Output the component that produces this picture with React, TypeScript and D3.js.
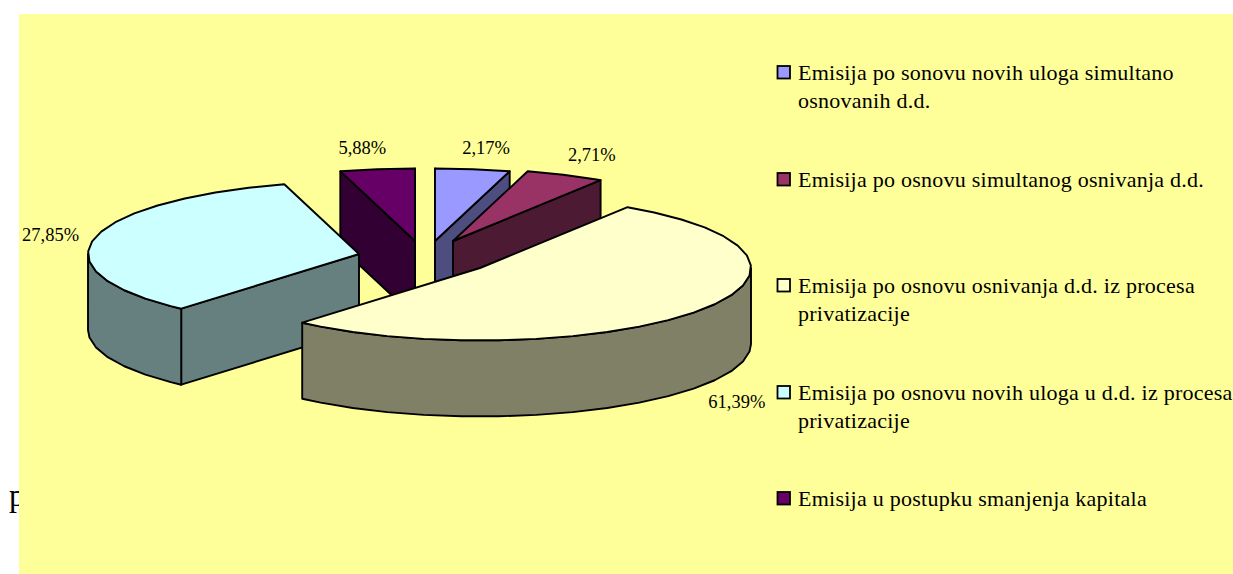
import React from "react";
import * as d3 from "d3";

const W = 1233;
const H = 574;

// ---- data ----
const shares = [2.17, 2.71, 61.39, 27.85, 5.88];
const shareLabels = ["2,17%", "2,71%", "61,39%", "27,85%", "5,88%"];
const legendLines = [
  ["Emisija po sonovu novih uloga simultano", "osnovanih d.d."],
  ["Emisija po osnovu simultanog osnivanja d.d."],
  ["Emisija po osnovu osnivanja d.d. iz procesa", "privatizacije"],
  ["Emisija po osnovu novih uloga u d.d. iz procesa", "privatizacije"],
  ["Emisija u postupku smanjenja kapitala"],
];
const fills = ["#9999FF", "#993366", "#FFFFCC", "#CCFFFF", "#660066"];

// ---- layout ----
const drawnAngles = [0, 16, 33, 221, 344, 360]; // the source's 3-D view foreshortens angles
const sliceCentres: [number, number][] = [
  [435, 241],
  [453, 241],
  [480, 268],
  [359, 254],
  [415, 241],
];
const labelOffsets: [number, number][] = [
  [13.4, -15.7],
  [26.5, -13.6],
  [40.4, 96],
  [-43.9, 2.8],
  [-14.9, -15.7],
];
const legendBaselines = [80, 187, 293, 400, 506];
const paintOrder = [4, 0, 1, 3, 2];
const RX = 271;
const RY = 72.5;
const DEPTH = 76;

const pieArcs = d3.pie<number>().sort(null).value((d) => d)(shares);
const angleScale = d3
  .scaleLinear()
  .domain([0, ...pieArcs.map((a) => a.endAngle)])
  .range(drawnAngles);

const rad = (deg: number) => (deg * Math.PI) / 180;
const rim = (c: [number, number], deg: number, drop = 0): [number, number] => [
  c[0] + RX * Math.sin(rad(deg)),
  c[1] - RY * Math.cos(rad(deg)) + drop,
];
const path = d3.line().curve(d3.curveLinear);

function arcDegs(a: number, b: number) {
  const out = [a];
  const step = 8;
  for (let v = Math.ceil(a / step) * step; v < b; v += step) if (v > a) out.push(v);
  out.push(b);
  return out;
}

function Slice({ i }: { i: number }) {
  const arc = pieArcs[i];
  const c = sliceCentres[i];
  const t0 = angleScale(arc.startAngle);
  const t1 = angleScale(arc.endAngle);
  const fill = fills[i];
  const rgb = d3.rgb(fill);
  const wall = d3.rgb(rgb.r * 0.5, rgb.g * 0.5, rgb.b * 0.5).formatHex();
  const drop = (p: [number, number]): [number, number] => [p[0], p[1] + DEPTH];
  const common = { stroke: "#000", strokeWidth: 1.9, strokeLinejoin: "round" as const };

  const walls: [number, number][][] = [];
  const radialWall = (t: number) => {
    const o = rim(c, t);
    walls.push([c, o, drop(o), drop(c)]);
  };
  if (Math.sin(rad(t0)) < 0 || t0 === 0) radialWall(t0);
  if (Math.sin(rad(t1)) > 0 || t1 === 360) radialWall(t1);
  const fa = Math.max(t0, 90);
  const fb = Math.min(t1, 270);
  if (fa < fb) {
    const top = arcDegs(fa, fb).map((t) => rim(c, t));
    walls.push([...top, ...top.slice().reverse().map(drop)]);
  }
  const face: [number, number][] = [c, ...arcDegs(t0, t1).map((t) => rim(c, t))];

  return (
    <g>
      {walls.map((w, k) => (
        <path key={k} d={path(w) + "Z"} fill={wall} {...common} />
      ))}
      <path d={path(face) + "Z"} fill={fill} {...common} />
    </g>
  );
}

const serif = "'Liberation Serif', 'Times New Roman', serif";

export default function App() {
  return (
    <svg
      width={W}
      height={H}
      viewBox={`0 0 ${W} ${H}`}
      style={{ position: "absolute", left: 0, top: 0, background: "#fff" }}
      fontFamily={serif}
    >
      <text x={9} y={505.5} fontSize={32} fill="#000">
        p
      </text>
      <rect x={19} y={14} width={W - 19} height={H - 14} fill="#FFFF99" />
      {paintOrder.map((i) => (
        <Slice key={i} i={i} />
      ))}
      {pieArcs.map((a, i) => {
        const mid = (angleScale(a.startAngle) + angleScale(a.endAngle)) / 2;
        const p = rim(sliceCentres[i], mid);
        return (
          <text
            key={i}
            x={p[0] + labelOffsets[i][0]}
            y={p[1] + labelOffsets[i][1]}
            textAnchor="middle"
            fontSize={18.5}
            fill="#000"
          >
            {shareLabels[i]}
          </text>
        );
      })}
      {legendLines.map((lines, i) => (
        <g key={i}>
          <rect
            x={777.5}
            y={legendBaselines[i] - 14}
            width={12.5}
            height={12.5}
            fill={fills[i]}
            stroke="#000"
            strokeWidth={1.8}
          />
          {lines.map((l, k) => (
            <text key={k} x={798} y={legendBaselines[i] + k * 28} fontSize={22} letterSpacing={0.25} fill="#000">
              {l}
            </text>
          ))}
        </g>
      ))}
    </svg>
  );
}
